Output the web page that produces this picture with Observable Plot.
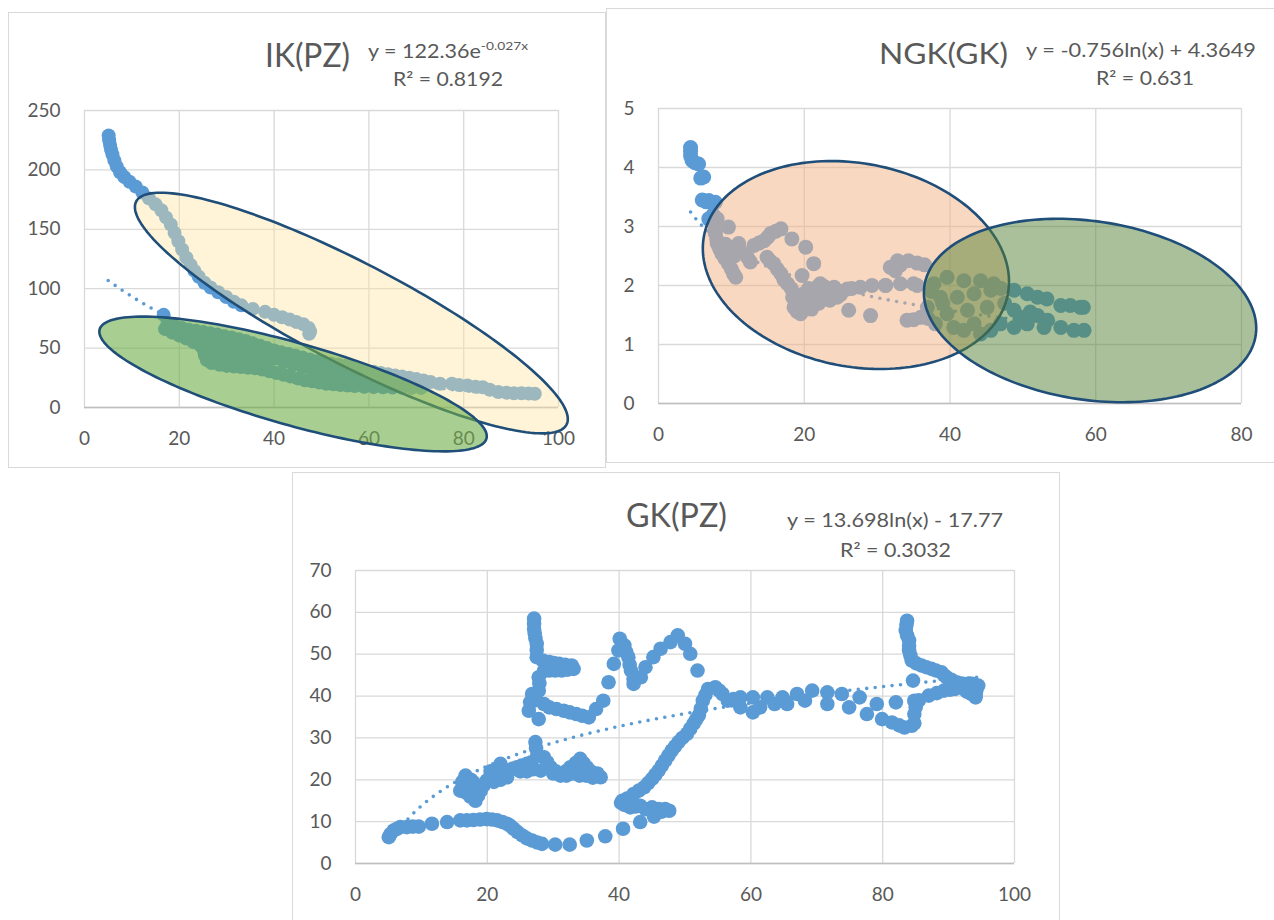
<!DOCTYPE html>
<html><head><meta charset="utf-8">
<script src="https://cdn.jsdelivr.net/npm/d3@7"></script>
<script src="https://cdn.jsdelivr.net/npm/@observablehq/plot@0.6"></script>
<style>
html,body{margin:0;padding:0;background:#fff;}
#page{position:relative;width:1274px;height:920px;overflow:hidden;background:#fff;font-family:Lato,"Open Sans",sans-serif;color:#595959;}
.panel{position:absolute;box-sizing:border-box;border:1px solid #D9D9D9;background:#fff;}
.plot{position:absolute;}
.txt{position:absolute;white-space:nowrap;line-height:1;transform-origin:0 0;color:#595959;}
.sup{font-size:0.64em;position:relative;top:-0.62em;}
</style></head><body><div id="page"></div>
<script>
// ---------- Panel 1: IK(PZ) ----------
const ikTitle = "IK(PZ)";
const ikEq = ["y = 122.36e", "-0.027x"];
const ikR2 = "R² = 0.8192";
const ikXTicks = [0, 20, 40, 60, 80, 100];
const ikYTicks = [0, 50, 100, 150, 200, 250];
const ikTrend = {a: 122.36, b: -0.027, xMin: 5, xMax: 95};
const ikUpper = [[5.1,229],[5.2,225],[5.4,221],[5.6,217],[5.9,213],[6.3,208],[6.8,203],[7.5,198],[8.4,194],[9.5,190],[10.8,186],[12.2,181],[13.6,176],[15,171],[16.2,166],[17.2,160],[18.2,154],[19,147],[19.8,140],[20.6,133],[21.5,126],[22.4,120],[23.2,115],[24.1,110],[25.3,105],[26.6,101],[28.2,97],[29.9,93],[31.5,89],[33.1,86],[35.5,83],[38.1,80.5],[40,78],[41.7,76],[43.3,74],[44.7,72],[46.2,70],[47.3,67],[47.6,64],[47.4,62]];
const ikBandTop = [[16.7,78],[17.5,70],[19,68.5],[20.5,67],[22,65.5],[23.5,64.5],[25,63.5],[26.5,62.5],[28,61.5],[29.5,60],[31,59],[32.5,57.5],[34,56],[35.5,54],[37,52],[38.5,50],[40,48],[41.5,46.5],[43,45],[44.5,43.5],[46,42],[47.5,40.5],[49,39],[50.5,38],[52,37],[53.5,36],[55,35],[56.5,34],[58,32.5],[59.5,31],[61,30],[62.5,29],[64,28],[65.5,27],[67,26],[68.5,25],[70,24],[71.5,22.7],[73,21.5],[75,20],[77.5,20],[79,19],[80.8,18.5],[82.5,17.5],[84,17],[85.5,15],[87.3,13],[89,12.5],[90.6,12],[92.2,12],[93.7,11.8],[95,11.6]];
const ikBandMid = [[22,60],[24,58],[26,56],[28,54],[30,52],[32,50],[34,48.5],[36,46],[38,43.5],[40,41],[42,38.5],[44,36],[46,34],[48,32],[50,30],[52,28.5],[54,27],[56,26],[58,25],[60,24],[62,23],[64,22],[66,21],[68,20.5],[27,48],[29,47],[31,46],[33,45],[35,43],[26,51],[29,44],[32,42.5],[28,40],[30,39.5],[32,39],[34,38.5],[36,37.5],[38,36]];
const ikBandLow = [[17,66],[18.5,63],[20,60.5],[21.5,58],[23,55],[24.5,52],[25.2,48],[25.4,44],[25.8,40],[26.8,37.5],[28.5,36],[30,35],[31.5,34.5],[33,34],[34.5,33.5],[36,33],[37.5,32],[39,30.5],[40.5,29],[42,27.5],[43.5,26],[45,24.5],[46.5,23],[48,22],[49.5,21],[51,20],[52.5,19.5],[54,19],[55.5,18.5],[57,18],[59,17.5],[61,17.2],[63,17],[65,16.8],[67,16.6],[69,16.5],[71,16.5]];
// ellipses: centre, half-axis vector U, half-axis vector V (data units)
const ikEllipseYellow = {c: [56.3, 79.5], u: [45.4, -93.9], v: [-4.94, -38.0], fill: "#FFE49B", opacity: 0.4};
const ikEllipseGreen = {c: [44.0, 19.8], u: [40.8, -46.0], v: [-2.36, -33.2], fill: "#70AD47", opacity: 0.6};

// ---------- Panel 2: NGK(GK) ----------
const ngkTitle = "NGK(GK)";
const ngkEq = "y = -0.756ln(x) + 4.3649";
const ngkR2 = "R² = 0.631";
const ngkXTicks = [0, 20, 40, 60, 80];
const ngkYTicks = [0, 1, 2, 3, 4, 5];
const ngkTrend = {a: -0.756, b: 4.3649, xMin: 4.4, xMax: 58.4};
const ngkPoints = [[4.4,4.34],[4.4,4.27],[4.4,4.2],[4.6,4.12],[5.0,4.08],[5.5,4.06],[5.8,3.82],[6.2,3.84],[6.0,3.45],[6.5,3.42],[6.9,3.44],[7.4,3.4],[7.8,3.41],[6.9,3.13],[7.5,3.2],
[8.05,3.13],[7.8,2.95],[9.6,2.99],[7.8,2.88],[8.0,2.78],[8.05,2.71],[8.4,2.62],[8.7,2.54],[9.1,2.46],[9.6,2.37],[10.0,2.28],[10.3,2.2],[10.6,2.14],[9.2,2.7],[9.8,2.6],[10.4,2.5],[11.0,2.71],[11.3,2.58],[12.2,2.48],[12.6,2.4],[13.1,2.68],[13.8,2.72],[14.5,2.76],[15.0,2.82],[15.4,2.88],[16.1,2.92],[16.8,2.96],[14.9,2.48],[15.3,2.42],[15.8,2.37],[16.3,2.28],[16.8,2.2],[17.2,2.1],[17.7,2.03],[18.3,2.79],[20.2,2.65],[21.3,2.37],[19.7,2.17],[18.2,1.95],[18.4,1.8],[18.6,1.63],[19.0,1.56],[19.5,1.52],[20.0,1.6],[20.4,1.69],[21.0,1.75],[21.8,1.8],[22.2,2.03],[22.8,1.98],[23.4,1.92],[22.5,1.85],[23.0,1.78],[24.1,1.97],[24.8,1.9],[25.9,1.94],[27.7,1.97],[29.3,2.0],[31.2,2.0],[26.1,1.58],[29.1,1.49],[32.5,2.25],[33.2,2.35],[34.3,2.42],[35.5,2.38],[36.5,2.35],[33.2,2.03],[35.0,2.03],[35.5,2.0],[34.1,1.41],[35.0,1.42],[36,1.46],[37,1.44],
[19.8,1.85],[20.6,1.95],[21.4,1.9],[20.2,1.8],[19,1.75],[21,1.6],[22,1.7],[23.5,1.75],[24.5,1.8],[25,1.85],[26.5,1.95],[31.8,2.31],[32.8,2.42],[31.1,2.0],
[37.8,2.03],[38.7,1.8],[39.6,2.14],[41.9,2.08],[44.2,2.08],[46,2.03],[41,1.8],[43.3,1.86],[45.6,1.92],[36.9,1.63],[39.6,1.52],[42.4,1.58],[45.1,1.63],[40.5,1.29],[43.3,1.35],[41.9,1.24],[38,1.35],[39,1.7],[37.5,1.9],[47,1.95],
[48.8,1.92],[50.6,1.86],[52,1.8],[53.3,1.77],[55.2,1.66],[56.5,1.66],[57.9,1.63],[58.3,1.63],[55.2,1.29],[57,1.24],[58.4,1.24],[48.8,1.58],[49.7,1.46],[52,1.49],[52.9,1.29],[50.6,1.35],[48.8,1.29],[45.6,1.24],[46.9,1.35],[44.2,1.18],[51,1.55],[53.4,1.41],[47.5,1.7]];
const ngkEllipseSalmon = {c: [27.09, 2.347], u: [20.84, -0.500], v: [-2.66, -1.690], fill: "#F4B183", opacity: 0.5};
const ngkEllipseGreen = {c: [59.22, 1.576], u: [22.73, -0.420], v: [-1.81, -1.497], fill: "#548235", opacity: 0.5};

// ---------- Panel 3: GK(PZ) ----------
const gkTitle = "GK(PZ)";
const gkEq = "y = 13.698ln(x) - 17.77";
const gkR2 = "R² = 0.3032";
const gkXTicks = [0, 20, 40, 60, 80, 100];
const gkYTicks = [0, 10, 20, 30, 40, 50, 60, 70];
const gkTrend = {a: 13.698, b: -17.77, xMin: 5.6, xMax: 94.5};
const gkLower = [[5.05,6.3],[5.3,7.0],[5.8,7.9],[6.3,8.3],[6.8,8.7],[7.8,8.7],[8.7,8.8],[9.6,8.8],[11.6,9.5],[13.9,9.9],[15.9,10.3],[16.9,10.3],[17.9,10.4],[18.9,10.5],[19.9,10.6],[20.7,10.5],[21.5,10.3],[22.3,9.9],[23,9.5],[23.5,9],[24,8.3],[24.6,7.5],[25.3,6.7],[26,6],[26.8,5.5],[27.6,5],[28.3,4.7],[30.3,4.5],[32.5,4.5],[35.1,5.5],[37.9,6.5],[40.6,8.3],[43.2,9.9],[45.3,11.2],[46.5,12.4],[47.6,12.6],[47,13],[46,13],[45,13.4],[44,13],[43.2,13.8],[42.5,13.6],[41.7,13.4],[40.8,14],[40.5,15],[40.3,14.5],[41.2,15.5]];
const gkRise = [[42.2,16.6],[43,17.4],[43.8,18.2],[44.4,19.2],[45,20.2],[45.5,21.2],[46,22.2],[46.5,23.4],[47,24.6],[47.5,25.8],[48,27],[48.5,28],[49,29],[49.6,30],[50.3,31],[50.8,32.2],[51.3,33.4],[51.7,34.4],[52.1,35.4],[52.4,37],[52.7,38.9],[53.1,40.3],[53.5,41.7],[54.6,42.1],[55.2,41.3],[55.7,40.5],[56.5,38.9],[57.4,39.3],[58.4,39.7],[58.4,37.3],[60.3,39.7],[60.3,36.1],[61.4,37.3],[62.5,39.7],[63.6,38.1],[64.8,39.7],[65.5,38.1],[67,40.5],[68.2,38.9],[69.3,41.3],[71.6,40.9],[71.6,38.1],[73.8,40.5],[74.9,37.3],[76.5,39.7],[77.6,35.7],[79.1,38.1],[79.9,34.5],[81.4,33.7],[82,38.5],[82.5,33],[83.3,32.5],[84.4,32.9],[84.8,33.5],[84.8,35.7],[85,37.3],[84.8,38.9],[84.6,43.7]];
const gkRight = [[83.7,58],[83.6,57],[83.5,55.7],[83.7,54.5],[84,53.3],[84,52],[84,50.9],[84.2,49.7],[84.4,48.5],[85.1,47.8],[85.9,47.3],[86.6,46.9],[87.4,46.5],[88.1,46.1],[88.9,45.7],[89.3,45],[89.7,44.5],[90.4,43.9],[91.2,43.3],[92,43],[92.7,42.9],[93.3,43],[93.8,42.9],[94.2,42],[94.2,41.3],[94.1,40.5],[94.1,39.7],[93.5,40.5],[92.8,41],[91.9,42.1],[91,41.7],[90.2,41.5],[89.3,41.3],[88.2,40.7],[87,40.1],[85.5,39],[93,42],[92.5,41.5],[94.5,42.5]];
const gkUpperLeft = [[27.1,58.5],[27.1,57.3],[27.1,56],[27.2,55],[27.3,53.8],[27.5,52.5],[27.5,51],[27.5,49.3],[28.4,48.5],[29.4,48.1],[30.1,47.9],[30.9,47.7],[31.8,47.5],[32.8,47.3],[33.1,46.5],[32.2,46.3],[31.3,46.1],[30.3,46.1],[29.4,46.1],[28.6,46],[27.8,44.5],[27.9,43],[27.8,41.3],[27.3,40],[27.1,38.9],[26.3,36.5],[26.5,38.5],[26.8,40.5],[27.8,34.5],[28.6,38.1],[29.4,37.3],[30.5,36.9],[31.6,36.5],[32.5,36.1],[33.5,35.7],[34.4,35.3],[35.4,34.9],[36.5,36.9],[37.6,38.9],[38.4,43.3],[39.2,47.7],[39.9,50.9],[40.1,53.7],[40.8,52.1],[41.1,50.5],[41.4,49.3],[41.6,47.5],[41.8,46.1],[42.2,44],[42.2,42.9],[43.3,44.5],[44,46.9],[45.2,49.3],[46.3,51.3],[47.8,52.9],[48.9,54.5],[50,52.5],[50.8,50.1],[51.9,46.1]];
const gkMiddle = [[16.7,21],[16.2,19.5],[15.9,17.4],[16.7,17],[17.4,16],[18.2,15],[18.6,16.2],[19,17.4],[19.4,18.6],[19.9,19.8],[20.7,20.6],[21.5,21.4],[22.2,21.8],[23,22.2],[23.8,22.6],[24.5,23],[25.2,23.4],[26,23.8],[26.7,24.2],[27.3,29],[27.4,27.5],[27.6,25.8],[28.6,25.4],[29.1,24.2],[29.6,23],[30.4,22],[31.1,21],[31.9,22],[32.6,23],[33.4,24],[34.1,25],[34.6,24],[35.1,23],[35.7,22],[36.2,21],[37.2,20.6],[36.7,21.5],[28.1,22.2],[27,22.5],[26,22],[25,22],[23,20.6],[22,20],[21,19.5],[17.9,19.4],[17.2,19],[18.5,18],[22,23.8],[20.5,22],[17.5,20],[18,17],[30,21.5],[32,21],[33,21.5],[34,21],[35,21],[36,20.5]];

// ---------- styles ----------
const pointColor = "#5B9BD5";
const gridColor = "#D9D9D9";
const axisColor = "#BFBFBF";
const textColor = "#595959";
const ellipseStroke = "#1F4E79";

const page = document.getElementById("page");

function ellipsePoints(e) {
  const pts = [];
  for (let i = 0; i < 180; i++) {
    const t = (i / 180) * 2 * Math.PI;
    pts.push({x: e.c[0] + e.u[0] * Math.cos(t) + e.v[0] * Math.sin(t),
              y: e.c[1] + e.u[1] * Math.cos(t) + e.v[1] * Math.sin(t)});
  }
  return pts;
}
function trendPoints(tr, f) {
  const pts = [];
  const n = 200;
  for (let i = 0; i <= n; i++) {
    const x = tr.xMin + (tr.xMax - tr.xMin) * i / n;
    pts.push({x, y: f(x)});
  }
  return pts;
}

function addBox(l, t, w, h) {
  const d = document.createElement("div");
  d.className = "panel";
  Object.assign(d.style, {left: l + "px", top: t + "px", width: w + "px", height: h + "px"});
  page.appendChild(d);
}

function addText(html, left, right, baseline, size) {
  const d = document.createElement("div");
  d.className = "txt";
  d.style.fontSize = size + "px";
  d.innerHTML = html;
  d.style.left = left + "px";
  d.style.top = (baseline - 0.887 * size) + "px";
  page.appendChild(d);
  const w = d.getBoundingClientRect().width;
  if (w > 0) d.style.transform = `scaleX(${(right - left) / w})`;
}

function makePlot(cfg) {
  const dots = cfg.series.map(s => Plot.dot(s, {x: d => d[0], y: d => d[1], r: cfg.r, fill: pointColor, stroke: "none"}));
  const ell = cfg.ellipses.map(e => Plot.line(ellipsePoints(e), {x: "x", y: "y", curve: "linear-closed", fill: e.fill, fillOpacity: e.opacity, stroke: ellipseStroke, strokeWidth: 2.6}));
  const chart = Plot.plot({
    width: cfg.width, height: cfg.height,
    marginLeft: cfg.ml, marginRight: cfg.mr, marginTop: cfg.mt, marginBottom: cfg.mb,
    x: {domain: cfg.xDomain},
    y: {domain: cfg.yDomain},
    style: {background: "transparent", fontFamily: "Lato, 'Open Sans', sans-serif", color: textColor, overflow: "visible"},
    marks: [
      Plot.gridX({ticks: cfg.xTicks, stroke: gridColor, strokeOpacity: 1, strokeWidth: 1.3}),
      Plot.gridY({ticks: cfg.yTicks, stroke: gridColor, strokeOpacity: 1, strokeWidth: 1.3}),
      Plot.ruleY([0], {stroke: axisColor, strokeWidth: 1.5}),
      Plot.axisX({ticks: cfg.xTicks, tickFormat: d => String(d), tickSize: 0, tickPadding: 24, fontSize: 19, fill: textColor, label: null}),
      Plot.axisY({ticks: cfg.yTicks, tickFormat: d => String(d), tickSize: 0, tickPadding: 24, fontSize: 19, fill: textColor, label: null}),
      ...dots,
      Plot.line(cfg.trend, {x: "x", y: "y", stroke: pointColor, strokeWidth: 3.6, strokeDasharray: "0,8.5", strokeLinecap: "round"}),
      ...ell
    ]
  });
  chart.classList.add("plot");
  chart.style.position = "absolute";
  chart.style.left = cfg.left + "px";
  chart.style.top = cfg.top + "px";
  chart.style.maxWidth = "none";
  page.appendChild(chart);
}

// Panel frames
addBox(8, 12, 598, 456);
addBox(606, 8, 690, 455);
addBox(292, 472, 768, 470);

// Panel 1
makePlot({
  left: 8, top: 12, width: 597, height: 456, ml: 76, mr: 47, mt: 98, mb: 61,
  xDomain: [0, 100], yDomain: [0, 250], xTicks: ikXTicks, yTicks: ikYTicks, r: 7,
  series: [ikUpper, ikBandLow, ikBandMid, ikBandTop],
  trend: trendPoints(ikTrend, x => ikTrend.a * Math.exp(ikTrend.b * x)),
  ellipses: [ikEllipseYellow, ikEllipseGreen]
});
// Panel 2
makePlot({
  left: 606, top: 8, width: 690, height: 455, ml: 52, mr: 55, mt: 100, mb: 60,
  xDomain: [0, 80], yDomain: [0, 5], xTicks: ngkXTicks, yTicks: ngkYTicks, r: 7.5,
  series: [ngkPoints],
  trend: trendPoints(ngkTrend, x => ngkTrend.a * Math.log(x) + ngkTrend.b),
  ellipses: [ngkEllipseSalmon, ngkEllipseGreen]
});
// Panel 3
makePlot({
  left: 292, top: 472, width: 766, height: 448, ml: 63, mr: 44, mt: 98, mb: 57,
  xDomain: [0, 100], yDomain: [0, 70], xTicks: gkXTicks, yTicks: gkYTicks, r: 7.3,
  series: [gkLower, gkMiddle, gkUpperLeft, gkRise, gkRight],
  trend: trendPoints(gkTrend, x => gkTrend.a * Math.log(x) + gkTrend.b),
  ellipses: []
});

// Titles and trendline labels
addText(ikTitle, 265, 350, 67, 32);
addText(`${ikEq[0]}<span class="sup">${ikEq[1]}</span>`, 368, 528, 58, 18.5);
addText(ikR2, 393, 503, 86, 18.5);
addText(ngkTitle, 879, 1008, 64, 29);
addText(ngkEq, 1026, 1256, 57, 18.5);
addText(ngkR2, 1096, 1194, 85, 18.5);
addText(gkTitle, 626, 727, 527, 32);
addText(gkEq, 787, 1003, 527, 18.5);
addText(gkR2, 840, 951, 557, 18.5);
</script>
</body></html>
